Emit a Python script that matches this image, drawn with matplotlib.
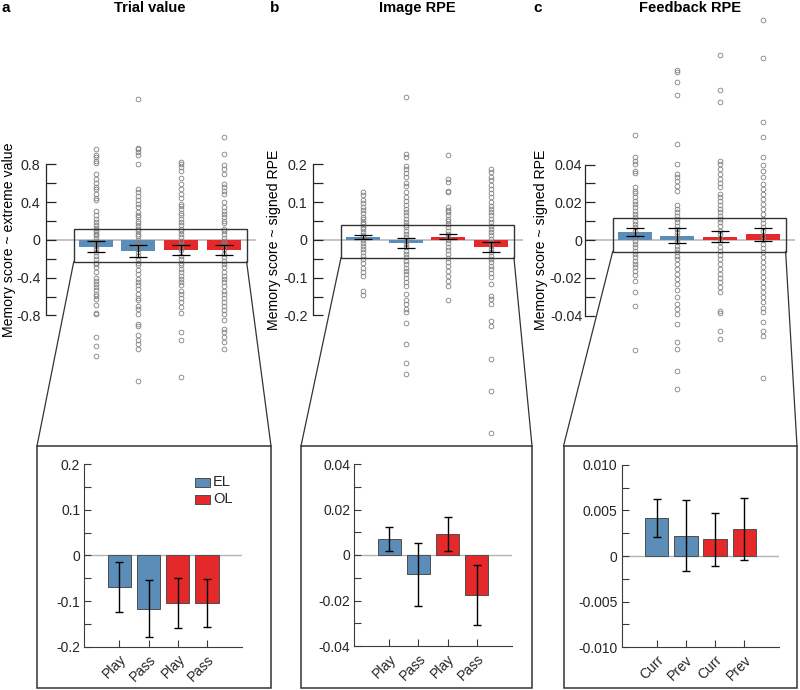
import matplotlib
matplotlib.use('Agg')
import matplotlib.pyplot as plt
from matplotlib.patches import Rectangle
from matplotlib.lines import Line2D

plt.rcParams['font.family'] = ['Liberation Sans', 'DejaVu Sans']

# ---------------- data ----------------
trial_labels = ['Play', 'Pass', 'Play', 'Pass']
image_labels = ['Play', 'Pass', 'Play', 'Pass']
feedback_labels = ['Curr', 'Prev', 'Curr', 'Prev']
legend_labels = ['EL', 'OL']

trial_means = [-0.069, -0.117, -0.105, -0.104]
trial_err = [0.055, 0.062, 0.055, 0.053]
image_means = [0.0070, -0.0084, 0.0092, -0.0175]
image_err = [0.0053, 0.0138, 0.0073, 0.0133]
feedback_means = [0.00416, 0.00222, 0.00183, 0.00299]
feedback_err = [0.0021, 0.0039, 0.0029, 0.0034]

trial_el_play = [0.96, 0.90, 0.88, 0.84, 0.82, 0.70, 0.65, 0.60, 0.56, 0.54, 0.49, 0.45, 0.42, 0.31,
                 0.26, 0.22, 0.19, 0.16, 0.13, 0.11, 0.08, 0.06, 0.05, 0.02, -0.01, -0.04, -0.06,
                 -0.10, -0.13, -0.17, -0.20, -0.24, -0.25, -0.29, -0.34, -0.40, -0.43, -0.47, -0.50,
                 -0.53, -0.57, -0.59, -0.62, -0.69, -0.77, -0.78, -1.03, -1.12, -1.23]
trial_el_pass = [1.49, 0.98, 0.96, 0.93, 0.90, 0.81, 0.54, 0.51, 0.47, 0.42, 0.38, 0.35, 0.30, 0.27,
                 0.24, 0.20, 0.18, 0.15, 0.12, 0.10, 0.06, 0.04, 0.00, -0.03, -0.06, -0.10, -0.13,
                 -0.17, -0.20, -0.24, -0.27, -0.32, -0.36, -0.41, -0.45, -0.48, -0.52, -0.57, -0.61,
                 -0.64, -0.70, -0.73, -0.78, -0.89, -0.91, -1.01, -1.06, -1.10, -1.16, -1.49]
trial_ol_play = [0.83, 0.81, 0.77, 0.73, 0.66, 0.59, 0.54, 0.49, 0.45, 0.38, 0.36, 0.33, 0.29, 0.26,
                 0.22, 0.19, 0.16, 0.12, 0.10, 0.06, 0.03, -0.01, -0.04, -0.08, -0.11, -0.17, -0.20,
                 -0.24, -0.27, -0.31, -0.34, -0.38, -0.41, -0.45, -0.48, -0.54, -0.57, -0.61, -0.66,
                 -0.71, -0.77, -0.98, -1.06, -1.45]
trial_ol_pass = [1.09, 0.91, 0.79, 0.75, 0.70, 0.59, 0.56, 0.52, 0.49, 0.40, 0.35, 0.31, 0.28, 0.24,
                 0.20, 0.18, 0.12, 0.10, 0.06, 0.02, -0.01, -0.04, -0.10, -0.15, -0.18, -0.22, -0.25,
                 -0.29, -0.34, -0.38, -0.41, -0.45, -0.49, -0.54, -0.57, -0.61, -0.66, -0.70, -0.74,
                 -0.78, -0.85, -0.94, -0.98, -1.03, -1.08, -1.16]

image_el_play = [0.127, 0.118, 0.106, 0.097, 0.088, 0.080, 0.071, 0.062, 0.056, 0.049, 0.042, 0.035,
                 0.028, 0.021, 0.014, 0.007, 0.000, -0.007, -0.015, -0.024, -0.033, -0.042, -0.050,
                 -0.062, -0.073, -0.086, -0.095, -0.135, -0.145]
image_el_pass = [0.380, 0.228, 0.219, 0.197, 0.188, 0.177, 0.166, 0.150, 0.144, 0.127, 0.113, 0.104,
                 0.094, 0.082, 0.073, 0.065, 0.056, 0.047, 0.041, 0.034, 0.025, 0.016, 0.007, -0.002,
                 -0.011, -0.019, -0.028, -0.037, -0.046, -0.055, -0.064, -0.073, -0.081, -0.090,
                 -0.101, -0.110, -0.121, -0.142, -0.159, -0.170, -0.183, -0.192, -0.219, -0.276,
                 -0.327, -0.354]
image_ol_play = [0.224, 0.162, 0.153, 0.131, 0.127, 0.087, 0.080, 0.073, 0.065, 0.056, 0.050, 0.042,
                 0.034, 0.025, 0.016, 0.007, 0.000, -0.009, -0.018, -0.027, -0.037, -0.048, -0.057,
                 -0.068, -0.081, -0.095, -0.108, -0.121, -0.159]
image_ol_pass = [0.188, 0.180, 0.168, 0.158, 0.147, 0.135, 0.124, 0.113, 0.100, 0.091, 0.082, 0.073,
                 0.065, 0.056, 0.047, 0.038, 0.029, 0.020, 0.012, 0.003, -0.006, -0.015, -0.024,
                 -0.033, -0.042, -0.050, -0.059, -0.068, -0.077, -0.088, -0.099, -0.117, -0.148,
                 -0.157, -0.170, -0.214, -0.227, -0.314, -0.400, -0.512]

feedback_el_curr = [0.0558, 0.0439, 0.0421, 0.0404, 0.0368, 0.0354, 0.0280, 0.0262, 0.0248, 0.0227,
                    0.0209, 0.0191, 0.0173, 0.0156, 0.0138, 0.0120, 0.0103, 0.0085, 0.0067, 0.0050,
                    0.0032, 0.0014, -0.0004, -0.0021, -0.0039, -0.0057, -0.0074, -0.0092, -0.0110,
                    -0.0127, -0.0145, -0.0163, -0.0184, -0.0216, -0.0278, -0.0349, -0.0584]
feedback_el_prev = [0.0903, 0.0890, 0.0837, 0.0766, 0.0510, 0.0404, 0.0350, 0.0336, 0.0315, 0.0288,
                    0.0262, 0.0188, 0.0165, 0.0147, 0.0129, 0.0112, 0.0094, 0.0076, 0.0058, 0.0041,
                    0.0023, 0.0005, -0.0012, -0.0030, -0.0048, -0.0065, -0.0083, -0.0101, -0.0127,
                    -0.0154, -0.0181, -0.0207, -0.0234, -0.0265, -0.0304, -0.0340, -0.0366, -0.0393,
                    -0.0446, -0.0543, -0.0579, -0.0694, -0.0791]
feedback_ol_curr = [0.0979, 0.0793, 0.0731, 0.0421, 0.0404, 0.0377, 0.0350, 0.0324, 0.0301, 0.0280,
                    0.0244, 0.0227, 0.0209, 0.0188, 0.0165, 0.0147, 0.0129, 0.0112, 0.0094, 0.0076,
                    0.0050, 0.0032, 0.0011, -0.0012, -0.0035, -0.0057, -0.0078, -0.0101, -0.0127,
                    -0.0154, -0.0181, -0.0202, -0.0225, -0.0251, -0.0273, -0.0375, -0.0389, -0.0481,
                    -0.0526]
feedback_ol_prev = [0.1165, 0.0966, 0.0625, 0.0545, 0.0442, 0.0395, 0.0368, 0.0333, 0.0297, 0.0271,
                    0.0244, 0.0218, 0.0191, 0.0165, 0.0138, 0.0112, 0.0088, 0.0067, 0.0046, 0.0023,
                    0.0000, -0.0021, -0.0042, -0.0065, -0.0092, -0.0119, -0.0145, -0.0172, -0.0198,
                    -0.0225, -0.0251, -0.0278, -0.0304, -0.0331, -0.0358, -0.0384, -0.0437, -0.0481,
                    -0.0508, -0.0729]

# ---------------- style ----------------
BLUE = '#5B8DB8'
RED = '#E5292B'
colors = [BLUE, BLUE, RED, RED]
AXC = '#262626'
ZERO = '#b4b4b4'
PTC = '#808080'

W, H = 800, 690
fig = plt.figure(figsize=(W / 100, H / 100), dpi=100)


def fx(x):
    return x / W


def fy(y):
    return 1 - y / H


def fmt(v, d):
    if abs(v) < 1e-12:
        return '0'
    return f'{v:.{d}f}'


def px(ax, x, y):
    disp = ax.transData.transform((x, y))
    return fig.transFigure.inverted().transform(disp)


def top_panel(spine_x, scale, ticks, labels, pad, means, errs, pts_list, box_y):
    sp = 42.6
    xl = (-0.17, 4.75)
    right = spine_x + (xl[1] - xl[0]) * sp
    top_px, bot_px = 8, 445
    ax = fig.add_axes([fx(spine_x), fy(bot_px), fx(right - spine_x), (bot_px - top_px) / H])
    ax.set_xlim(*xl)
    ax.set_ylim((240 - bot_px) / scale, (240 - top_px) / scale)
    ax.patch.set_alpha(0)
    for s in ['top', 'right', 'bottom']:
        ax.spines[s].set_visible(False)
    ax.spines['left'].set_bounds(ticks[0], ticks[-1])
    ax.spines['left'].set_color(AXC)
    ax.spines['left'].set_linewidth(0.9)
    ax.set_yticks(ticks, labels)
    ax.set_xticks([])
    ax.tick_params(axis='y', direction='in', length=7, width=0.9, color=AXC,
                   labelsize=10.3, labelcolor=AXC, pad=pad)
    ax.axhline(0, color=ZERO, lw=1.1, zorder=1)
    xs = [1, 2, 3, 4]
    ax.bar(xs, means, width=0.8, color=colors, zorder=2)
    for x, pts in zip(xs, pts_list):
        ax.plot([x] * len(pts), pts, ls='none', marker='o', ms=3.4, mfc='none',
                mec=PTC, mew=0.6, zorder=3, clip_on=False)
    ax.errorbar(xs, means, yerr=errs, fmt='none', ecolor='black', elinewidth=0.9,
                capsize=6.5, capthick=0.9, zorder=4)
    bx0, bx1 = 0.48, 4.54
    ax.add_patch(Rectangle((bx0, box_y[1]), bx1 - bx0, box_y[0] - box_y[1], fill=False,
                           ec='#333333', lw=1.0, zorder=5))
    return ax, (bx0, bx1)


def bottom_panel(spine_x, end_x, top_y, bot_y, lim, step, dec, means, errs, xlabels):
    ax = fig.add_axes([fx(spine_x), fy(bot_y), fx(end_x - spine_x), (bot_y - top_y) / H])
    ax.set_xlim(-0.2, 5.2)
    ax.set_ylim(-lim, lim)
    for s in ['top', 'right']:
        ax.spines[s].set_visible(False)
    for s in ['left', 'bottom']:
        ax.spines[s].set_color('#3a3a3a')
        ax.spines[s].set_linewidth(0.8)
    n = int(round(2 * lim / step))
    ticks = [-lim + i * step for i in range(n + 1)]
    labels = [fmt(t, dec) if i % 2 == 0 else '' for i, t in enumerate(ticks)]
    ax.set_yticks(ticks, labels)
    xs = [1, 2, 3, 4]
    ax.set_xticks(xs, xlabels, rotation=45, ha='right', va='top', rotation_mode='anchor')
    ax.tick_params(axis='both', direction='in', length=5, width=0.8, color='#3a3a3a',
                   labelsize=10, labelcolor=AXC)
    ax.tick_params(axis='y', pad=3)
    ax.tick_params(axis='x', pad=4)
    ax.axhline(0, color=ZERO, lw=1.0, zorder=1)
    ax.bar(xs, means, width=0.8, color=colors, edgecolor='#4d4d4d', linewidth=0.7, zorder=2)
    ax.errorbar(xs, means, yerr=errs, fmt='none', ecolor='black', elinewidth=1.0,
                capsize=2.8, capthick=1.0, zorder=3)
    return ax


# top panels
ax_a, bxa = top_panel(46, 151 / 1.6,
                      [-0.8, -0.6, -0.4, -0.2, 0, 0.2, 0.4, 0.6, 0.8],
                      ['-0.8', '', '-0.4', '', '0', '', '0.4', '', '0.8'], 4,
                      trial_means, trial_err,
                      [trial_el_play, trial_el_pass, trial_ol_play, trial_ol_pass], (0.117, -0.233))
ax_b, bxb = top_panel(313.3, 151 / 0.4,
                      [-0.2, -0.15, -0.1, -0.05, 0, 0.05, 0.1, 0.15, 0.2],
                      ['-0.2', '', '-0.1', '', '0', '', '0.1', '', '0.2'], 4,
                      image_means, image_err,
                      [image_el_play, image_el_pass, image_ol_play, image_ol_pass], (0.0405, -0.047))
ax_c, bxc = top_panel(585, 151 / 0.08,
                      [-0.04, -0.03, -0.02, -0.01, 0, 0.01, 0.02, 0.03, 0.04],
                      ['-0.04', '', '-0.02', '', '0', '', '0.02', '', '0.04'], 2,
                      feedback_means, feedback_err,
                      [feedback_el_curr, feedback_el_prev, feedback_ol_curr, feedback_ol_prev],
                      (0.0115, -0.0062))

# bottom panels
bot_a = bottom_panel(84.3, 242, 464, 646.7, 0.2, 0.05, 1, trial_means, trial_err, trial_labels)
bot_b = bottom_panel(354.3, 511.7, 464, 646, 0.04, 0.01, 2, image_means, image_err, image_labels)
bot_c = bottom_panel(621.7, 779.3, 464.7, 647.3, 0.010, 0.0025, 3, feedback_means, feedback_err,
                     feedback_labels)

# outer boxes of bottom panels and connector lines
outer = [(37, 271), (301, 532), (563.5, 797)]
OT, OB = 446, 688
for (x0, x1), ax, (b0, b1), by in zip(outer, [ax_a, ax_b, ax_c], [bxa, bxb, bxc],
                                      [-0.233, -0.047, -0.0062]):
    fig.add_artist(Rectangle((fx(x0), fy(OB)), fx(x1 - x0), (OB - OT) / H, fill=False,
                             ec='#333333', lw=1.1, transform=fig.transFigure))
    pl = px(ax, b0, by)
    pr = px(ax, b1, by)
    fig.add_artist(Line2D([pl[0], fx(x0)], [pl[1], fy(OT)], color='#333333', lw=0.9,
                          transform=fig.transFigure))
    fig.add_artist(Line2D([pr[0], fx(x1)], [pr[1], fy(OT)], color='#333333', lw=0.9,
                          transform=fig.transFigure))

# legend in bottom a
for i, (lab, c) in enumerate(zip(legend_labels, [BLUE, RED])):
    y0 = 478 + i * 16.5
    fig.add_artist(Rectangle((fx(195), fy(y0 + 9)), fx(15), 9 / H, fc=c, ec='#4d4d4d', lw=0.7,
                             transform=fig.transFigure))
    fig.text(fx(213), fy(y0 + 4.5), lab, fontsize=10.5, color=AXC, ha='left', va='center')

# titles, panel letters, y labels
for x, t in [(150, 'Trial value'), (417, 'Image RPE'), (690, 'Feedback RPE')]:
    fig.text(fx(x), fy(8), t, fontsize=10.5, fontweight='bold', ha='center', va='center')
for x, t in [(1, 'a'), (270, 'b'), (533, 'c')]:
    fig.text(fx(x), fy(8), t, fontsize=11, fontweight='bold', ha='left', va='center')
for x, t in [(9, 'Memory score ~ extreme value'), (274, 'Memory score ~ signed RPE'),
             (540.5, 'Memory score ~ signed RPE')]:
    fig.text(fx(x), fy(240), t, fontsize=10.2, rotation=90, ha='center', va='center', color='black')

fig.savefig('out.png', dpi=100)
